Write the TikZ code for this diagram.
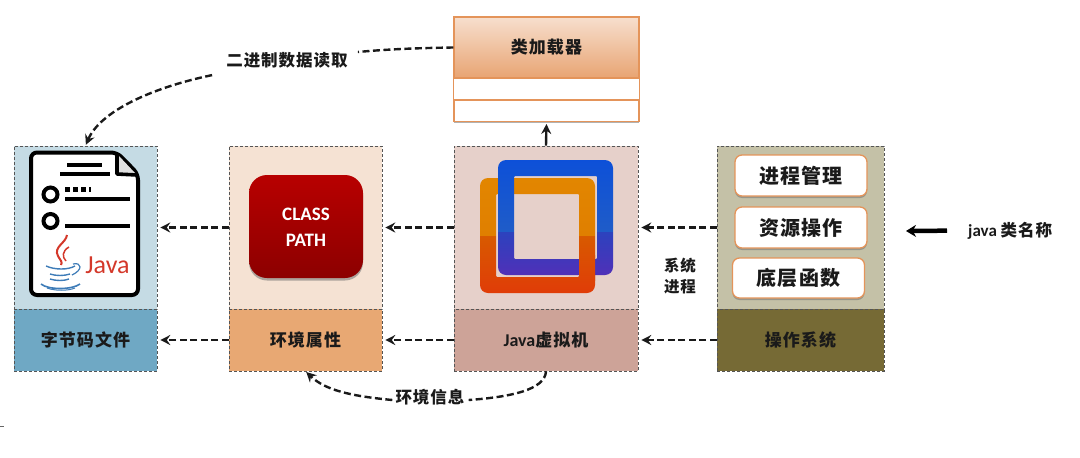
\documentclass[tikz,border=0pt]{standalone}
\usepackage{fontspec}
\setmainfont{Noto Sans CJK SC}
\newfontfamily\lat{Carlito}
\newfontfamily\cjk[LetterSpace=6]{Noto Sans CJK SC}
\usetikzlibrary{arrows.meta,shadows,calc}
\definecolor{fileA}{HTML}{C5DBE4}\definecolor{fileB}{HTML}{6FA8C4}
\definecolor{envA}{HTML}{F5E2D3}\definecolor{envB}{HTML}{E8A873}
\definecolor{jvmA}{HTML}{E6D0CA}\definecolor{jvmB}{HTML}{CDA398}
\definecolor{osA}{HTML}{C4C1A7}\definecolor{osB}{HTML}{766A35}
\definecolor{ink}{HTML}{1A1A1A}
\definecolor{edge}{HTML}{555555}
\definecolor{loadline}{HTML}{E4945A}
\definecolor{jred}{HTML}{D4382A}\definecolor{jblue}{HTML}{3E7CB8}
\definecolor{vmA}{HTML}{0D50D8}\definecolor{vmB}{HTML}{1F5CC8}\definecolor{vmC}{HTML}{2C42BE}\definecolor{vmD}{HTML}{5030B8}
\definecolor{vmE}{HTML}{E28600}\definecolor{vmF}{HTML}{E07F00}\definecolor{vmG}{HTML}{D85A00}\definecolor{vmH}{HTML}{E03C08}
\pgfdeclareverticalshading{vmblue}{100bp}{color(0bp)=(vmD);color(25bp)=(vmD);color(43.7bp)=(vmC);color(43.9bp)=(vmB);color(75bp)=(vmA);color(100bp)=(vmA)}
\pgfdeclareverticalshading{vmorg}{100bp}{color(0bp)=(vmH);color(25bp)=(vmH);color(50bp)=(vmG);color(50.2bp)=(vmF);color(75bp)=(vmE);color(100bp)=(vmE)}
\tikzset{
  panel/.style={draw=edge,densely dashed,line width=0.6pt,inner sep=0pt,font=\cjk\fontsize{17}{20}\selectfont\bfseries,text=ink},
  softbox/.style={draw=loadline,line width=1.3pt,fill=white,rounded corners=7pt,inner sep=0pt,minimum width=132pt,minimum height=41pt,
     font=\cjk\fontsize{20}{24}\selectfont\bfseries,text=ink,drop shadow={shadow xshift=0pt,shadow yshift=-2pt,fill=black!55,opacity=.55}},
  flow/.style={line width=2.4pt,dash pattern=on 7pt off 3.5pt,-{Stealth[length=10pt,width=10pt,inset=3.5pt]},shorten >=3pt,draw=ink},
  plainflow/.style={line width=2.4pt,dash pattern=on 7pt off 3.5pt,draw=ink},
  caption/.style={font=\cjk\fontsize{16.5}{21}\selectfont\bfseries,text=ink,inner sep=0pt,align=center},
  iconline/.style={line width=3.6pt,draw=black},
}
\begin{document}
\begin{tikzpicture}[x=1pt,y=-1pt]
\useasboundingbox (0,0) rectangle (1080,458);
\fill[white] (0,0) rectangle (1080,458);
\def\pane#1#2#3#4#5#6{%
  \node[panel,fill=#4,minimum width=#3pt,minimum height=163pt] (#1Top) at (#2,227.5) {};
  \node[panel,fill=#5,minimum width=#3pt,minimum height=62pt] (#1Bot) at (#2,340) {#6};}
\pane{file}{85.5}{143}{fileA}{fileB}{字节码文件}
\pane{env}{305.5}{153}{envA}{envB}{环境属性}
\pane{jvm}{546}{184}{jvmA}{jvmB}{{\lat\fontsize{18}{20}\selectfont\bfseries Java}虚拟机}
\pane{os}{800.5}{167}{osA}{osB}{操作系统}

% class loader
\node[draw=loadline,line width=1.2pt,inner sep=0pt,minimum width=185pt,minimum height=61pt,top color=loadline!30,bottom color=loadline!85,
   font=\cjk\fontsize{17}{20}\selectfont\bfseries,text=ink,drop shadow={shadow xshift=0pt,shadow yshift=-2pt,fill=black!60,opacity=.5}] (loaderHead) at (546.5,47.5) {类加载器};
\node[draw=loadline,line width=1.2pt,fill=white,inner sep=0pt,minimum width=185pt,minimum height=20pt,anchor=north,
   drop shadow={shadow xshift=0pt,shadow yshift=-2pt,fill=black!60,opacity=.5}] (loaderMid) at (loaderHead.south) {};
\node[draw=loadline,line width=1.2pt,fill=white,inner sep=0pt,minimum width=185pt,minimum height=21pt,anchor=north,
   drop shadow={shadow xshift=0pt,shadow yshift=-2pt,fill=black!60,opacity=.5}] (loaderLow) at (loaderMid.south) {};
\draw[draw=loadline,line width=1.2pt,fill=white] (loaderMid.north west) rectangle (loaderMid.south east);

% file icon
\begin{scope}
\filldraw[fill=white,draw=black,line width=4pt,rounded corners=6pt,line join=round]
  (117,152.5) -- (31,152.5) -- (31,295) -- (138,295) -- (138,174) -- cycle;
\fill[fill=black!12] (119,156) -- (135,173) -- (119,173) -- cycle;
\draw[line width=3.6pt,line join=round] (117,153) -- (117,174) -- (137,175);
\draw[iconline] (67,165) -- (102,165);
\draw[iconline] (60,174) -- (110,174);
\draw[line width=4pt] (50.5,194.5) circle (7);
\draw[line width=4pt] (50.5,221) circle (7);
\draw[line width=5pt,dash pattern=on 5pt off 3pt] (65,189.5) -- (91,189.5);
\draw[iconline] (65,199) -- (130,199);
\draw[iconline] (65,226) -- (130,226);
% java logo
\draw[jred,line width=2pt] (67,235) .. controls (66,243) and (53,247) .. (58,256) .. controls (60,260) and (63,262) .. (61,265);
\draw[jred,line width=1.5pt] (69,247) .. controls (62,251) and (62,257) .. (66,261);
\draw[jblue,line width=1.4pt] (46,266) .. controls (55,270) and (68,270) .. (75,266);
\draw[jblue,line width=1.4pt] (50,274) .. controls (56,276) and (64,276) .. (70,274);
\draw[jblue,line width=1.4pt] (50,279) .. controls (56,281) and (64,281) .. (69,279);
\draw[jblue,line width=1.2pt] (73,264) .. controls (82,262) and (83,270) .. (72,275);
\draw[jblue,line width=1.6pt] (41,284) .. controls (48,290) and (72,290) .. (80,284);
\draw[jblue,line width=1pt] (47,288) .. controls (55,291) and (68,291) .. (75,288);
\end{scope}
\node[text=jred,font=\lat\fontsize{26}{26}\selectfont,inner sep=0pt] (javaLogo) at (107.5,265) {Java};

% class path
\shade[top color=red!72!black,bottom color=red!55!black,rounded corners=18pt,drop shadow={shadow xshift=0pt,shadow yshift=-2.5pt,fill=black!60,opacity=.5}]
  (249,175) rectangle (363,278);
\node[text=white,font=\lat\fontsize{19}{26}\selectfont\bfseries,align=center,inner sep=0pt] (classPath) at (306,227.5) {CLASS\\PATH};

% vmware mark
\shade[shading=vmorg,even odd rule] [rounded corners=8pt] (480,178) rectangle (595,293) [rounded corners=1pt] (496,194) rectangle (579,277);
\shade[shading=vmblue,even odd rule] [rounded corners=8pt] (498,160) rectangle (613,275) [rounded corners=1pt] (514,176) rectangle (597,259);
\begin{scope}
\clip (579,255) rectangle (595,280);
\shade[shading=vmorg,even odd rule] [rounded corners=8pt] (480,178) rectangle (595,293) [rounded corners=1pt] (496,194) rectangle (579,277);
\end{scope}

% os items
\node[softbox] (itemA) at (801,175.5) {进程管理};
\node[softbox] (itemB) at (801,227.5) {资源操作};
\node[softbox,minimum height=40pt] (itemC) at (798.5,278) {底层函数};

% labels
\node[caption] (readLabel) at (287,60) {二进制数据读取};
\node[caption] (infoLabel) at (430,397) {环境信息};
\node[caption,font=\cjk\fontsize{15.5}{21}\selectfont\bfseries] (procLabel) at (680,276) {系统\\进程};
\node[caption,anchor=west] (nameLabel) at (968,230.5) {{\lat\fontsize{17}{20}\selectfont\bfseries java }类名称};
\coordinate (nameTip) at (906,231);

% connectors
\draw[flow] (envTop.west) -- (fileTop.east);
\draw[flow] (envBot.west) -- (fileBot.east);
\draw[flow] (jvmTop.west) -- (envTop.east);
\draw[flow] (jvmBot.west) -- (envBot.east);
\draw[flow] (osTop.west) -- (jvmTop.east);
\draw[flow] (osBot.west) -- (jvmBot.east);
\draw[line width=2.4pt,-{Stealth[length=10pt,width=10pt,inset=3.5pt]},shorten >=2pt,draw=ink] (jvmTop.north) -- (loaderLow.south);
\draw[plainflow] (loaderHead.west) .. controls (420,48) and (390,49) .. ($(readLabel.east)+(10,-8)$);
\draw[flow,shorten >=1pt] ($(readLabel.south west)+(-14,7)$) .. controls (150,88) and (100,112) .. (fileTop.north);
\draw[plainflow] (jvmBot.south) .. controls (545,390) and (510,397) .. ($(infoLabel.east)+(4,3)$);
\draw[flow,shorten >=1pt] ($(infoLabel.west)+(-3,3)$) .. controls (350,396) and (325,390) .. (envBot.south);
\draw[line width=4.5pt,-{Stealth[length=10pt,width=12pt]},draw=black,shorten <=21pt] (nameLabel.west) -- (nameTip);
\fill[black!60] (0,425.5) rectangle (4,426.3);
\end{tikzpicture}
\end{document}
